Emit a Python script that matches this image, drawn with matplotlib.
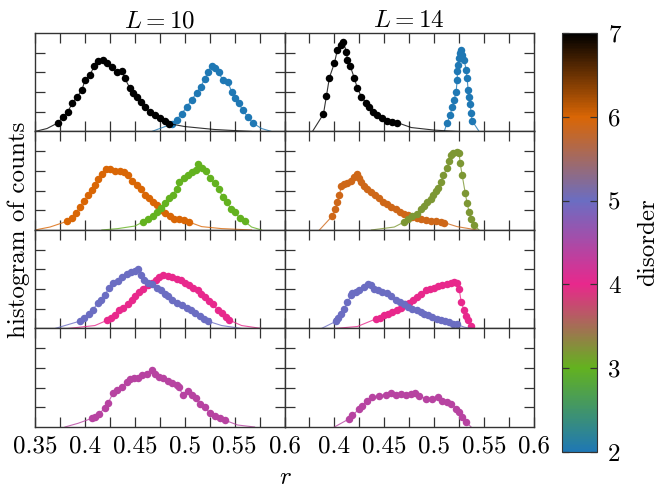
import matplotlib
matplotlib.use('Agg')
import matplotlib.pyplot as plt
from matplotlib.colors import LinearSegmentedColormap, Normalize
from matplotlib.cm import ScalarMappable
from matplotlib.ticker import FixedLocator, NullFormatter

plt.rcParams['font.family'] = 'serif'
plt.rcParams['font.serif'] = ['cmr10']
plt.rcParams['mathtext.fontset'] = 'cm'
plt.rcParams['axes.unicode_minus'] = False
plt.rcParams['font.size'] = 18

# disorder colour scale (value -> colour)
cmap_levels = [2, 3, 4, 5, 6, 7]
cmap_colors = ['#1f78b4', '#63b21f', '#e8288c', '#6b6dc2', '#d96605', '#000000']

titles = ['$L = 10$', '$L = 14$']
xtick_labels = ['0.35', '0.4', '0.45', '0.5', '0.55', '0.6']

# ---- L = 10 ----
r10_w7 = [0.35, 0.362, 0.373, 0.378, 0.383, 0.387, 0.392, 0.397, 0.40, 0.405, 0.409, 0.413,
          0.418, 0.422, 0.427, 0.432, 0.437, 0.44, 0.445, 0.448, 0.452, 0.456, 0.46, 0.465,
          0.47, 0.475, 0.48, 0.484, 0.50, 0.53, 0.567]
h10_w7 = [0.0, 0.03, 0.088, 0.15, 0.20, 0.285, 0.35, 0.42, 0.52, 0.57, 0.66, 0.72,
          0.73, 0.70, 0.65, 0.60, 0.61, 0.54, 0.44, 0.39, 0.35, 0.30, 0.245, 0.20,
          0.17, 0.14, 0.11, 0.08, 0.05, 0.02, 0.0]
r10_w2 = [0.467, 0.487, 0.492, 0.497, 0.502, 0.507, 0.512, 0.516, 0.52, 0.523, 0.527, 0.53,
          0.534, 0.538, 0.543, 0.547, 0.55, 0.554, 0.558, 0.563, 0.568, 0.577, 0.587]
h10_w2 = [0.0, 0.075, 0.12, 0.18, 0.25, 0.32, 0.395, 0.455, 0.53, 0.60, 0.667, 0.64,
          0.60, 0.524, 0.507, 0.405, 0.337, 0.286, 0.218, 0.15, 0.088, 0.03, 0.0]
r10_w6 = [0.35, 0.365, 0.382, 0.387, 0.391, 0.395, 0.399, 0.403, 0.407, 0.41, 0.413, 0.417,
          0.421, 0.425, 0.43, 0.435, 0.439, 0.443, 0.447, 0.452, 0.456, 0.46, 0.464, 0.468,
          0.472, 0.476, 0.48, 0.485, 0.489, 0.494, 0.499, 0.504, 0.517, 0.537, 0.567]
h10_w6 = [0.0, 0.03, 0.088, 0.122, 0.177, 0.235, 0.293, 0.354, 0.405, 0.456, 0.514, 0.565,
          0.62, 0.62, 0.60, 0.60, 0.585, 0.558, 0.497, 0.456, 0.415, 0.36, 0.32, 0.28,
          0.25, 0.207, 0.177, 0.143, 0.116, 0.11, 0.10, 0.082, 0.034, 0.014, 0.0]
r10_w3 = [0.417, 0.433, 0.45, 0.458, 0.463, 0.468, 0.472, 0.476, 0.48, 0.484, 0.488, 0.492,
          0.494, 0.499, 0.503, 0.507, 0.511, 0.513, 0.517, 0.521, 0.525, 0.53, 0.534, 0.538,
          0.542, 0.546, 0.55, 0.555, 0.56, 0.567, 0.577]
h10_w3 = [0.0, 0.014, 0.04, 0.08, 0.109, 0.143, 0.184, 0.224, 0.27, 0.32, 0.36, 0.415,
          0.49, 0.524, 0.558, 0.585, 0.61, 0.667, 0.626, 0.60, 0.53, 0.473, 0.415, 0.337,
          0.286, 0.218, 0.184, 0.122, 0.088, 0.03, 0.0]
r10_w5 = [0.37, 0.395, 0.399, 0.404, 0.408, 0.413, 0.416, 0.42, 0.424, 0.428, 0.433, 0.437,
          0.442, 0.446, 0.45, 0.453, 0.456, 0.459, 0.463, 0.467, 0.472, 0.476, 0.48, 0.483,
          0.487, 0.492, 0.497, 0.502, 0.506, 0.51, 0.515, 0.519, 0.523, 0.537, 0.557]
h10_w5 = [0.0, 0.075, 0.109, 0.15, 0.19, 0.259, 0.293, 0.337, 0.415, 0.463, 0.483, 0.524,
          0.558, 0.575, 0.585, 0.599, 0.54, 0.49, 0.463, 0.449, 0.415, 0.388, 0.354, 0.327,
          0.286, 0.259, 0.235, 0.211, 0.184, 0.156, 0.122, 0.099, 0.075, 0.03, 0.0]
r10_w4 = [0.383, 0.41, 0.422, 0.426, 0.43, 0.434, 0.438, 0.443, 0.447, 0.45, 0.454, 0.458,
          0.463, 0.467, 0.471, 0.474, 0.478, 0.483, 0.487, 0.492, 0.496, 0.50, 0.504, 0.508,
          0.513, 0.516, 0.52, 0.524, 0.528, 0.533, 0.537, 0.541, 0.544, 0.557, 0.577]
h10_w4 = [0.0, 0.03, 0.082, 0.109, 0.133, 0.184, 0.211, 0.245, 0.286, 0.327, 0.371, 0.405,
          0.439, 0.463, 0.49, 0.524, 0.54, 0.53, 0.524, 0.507, 0.497, 0.463, 0.439, 0.415,
          0.388, 0.347, 0.32, 0.279, 0.245, 0.19, 0.156, 0.116, 0.088, 0.03, 0.0]
r10_w45 = [0.38, 0.393, 0.407, 0.41, 0.414, 0.42, 0.423, 0.428, 0.432, 0.437, 0.442, 0.445,
           0.449, 0.453, 0.457, 0.462, 0.467, 0.47, 0.474, 0.478, 0.483, 0.487, 0.492, 0.494,
           0.498, 0.503, 0.507, 0.511, 0.515, 0.52, 0.525, 0.53, 0.535, 0.54, 0.553, 0.57]
h10_w45 = [0.0, 0.037, 0.088, 0.105, 0.128, 0.196, 0.24, 0.34, 0.375, 0.409, 0.459, 0.486,
           0.50, 0.493, 0.527, 0.534, 0.578, 0.534, 0.51, 0.493, 0.466, 0.443, 0.426, 0.409,
           0.324, 0.365, 0.324, 0.29, 0.23, 0.206, 0.139, 0.115, 0.095, 0.07, 0.02, 0.0]

# ---- L = 14 ----
r14_w7 = [0.378, 0.389, 0.392, 0.395, 0.40, 0.403, 0.407, 0.409, 0.412, 0.413, 0.416, 0.42,
          0.423, 0.427, 0.432, 0.435, 0.439, 0.443, 0.448, 0.453, 0.458, 0.463, 0.477, 0.50,
          0.523]
h14_w7 = [0.0, 0.177, 0.36, 0.548, 0.694, 0.83, 0.88, 0.905, 0.81, 0.73, 0.66, 0.54,
          0.44, 0.354, 0.286, 0.245, 0.20, 0.167, 0.133, 0.105, 0.10, 0.09, 0.04, 0.014,
          0.0]
r14_w2 = [0.51, 0.513, 0.516, 0.518, 0.52, 0.522, 0.523, 0.5233, 0.524, 0.525, 0.526, 0.527,
          0.528, 0.53, 0.532, 0.533, 0.534, 0.535, 0.536, 0.537, 0.538, 0.545]
h14_w2 = [0.0, 0.088, 0.167, 0.245, 0.32, 0.405, 0.524, 0.61, 0.677, 0.745, 0.796, 0.83,
          0.78, 0.728, 0.626, 0.54, 0.42, 0.354, 0.28, 0.184, 0.109, 0.0]
r14_w6 = [0.385, 0.398, 0.401, 0.403, 0.405, 0.407, 0.41, 0.413, 0.417, 0.42, 0.423, 0.425,
          0.427, 0.43, 0.433, 0.437, 0.441, 0.445, 0.449, 0.453, 0.457, 0.462, 0.466, 0.47,
          0.474, 0.478, 0.483, 0.487, 0.492, 0.497, 0.502, 0.507, 0.51, 0.523, 0.543]
h14_w6 = [0.0, 0.143, 0.218, 0.286, 0.354, 0.449, 0.463, 0.473, 0.497, 0.54, 0.565, 0.524,
          0.49, 0.449, 0.415, 0.388, 0.354, 0.32, 0.279, 0.259, 0.235, 0.211, 0.184, 0.167,
          0.15, 0.133, 0.122, 0.109, 0.099, 0.088, 0.088, 0.082, 0.075, 0.034, 0.0]
r14_w3 = [0.437, 0.46, 0.47, 0.474, 0.478, 0.483, 0.487, 0.49, 0.493, 0.497, 0.499, 0.502,
          0.504, 0.507, 0.509, 0.513, 0.515, 0.517, 0.519, 0.523, 0.525, 0.526, 0.528, 0.531,
          0.533, 0.535, 0.537, 0.54, 0.545]
h14_w3 = [0.0, 0.03, 0.082, 0.109, 0.143, 0.167, 0.211, 0.245, 0.279, 0.313, 0.36, 0.395,
          0.429, 0.49, 0.558, 0.626, 0.70, 0.762, 0.779, 0.796, 0.779, 0.677, 0.558, 0.38,
          0.27, 0.184, 0.109, 0.048, 0.0]
r14_w5 = [0.387, 0.402, 0.404, 0.407, 0.41, 0.413, 0.417, 0.418, 0.422, 0.425, 0.43, 0.434,
          0.437, 0.44, 0.444, 0.448, 0.453, 0.457, 0.462, 0.466, 0.47, 0.474, 0.478, 0.483,
          0.487, 0.49, 0.494, 0.498, 0.503, 0.507, 0.511, 0.515, 0.519, 0.523, 0.53, 0.537]
h14_w5 = [0.0, 0.075, 0.109, 0.15, 0.20, 0.27, 0.337, 0.36, 0.371, 0.388, 0.422, 0.456,
          0.439, 0.405, 0.388, 0.371, 0.36, 0.327, 0.293, 0.269, 0.245, 0.218, 0.20, 0.184,
          0.167, 0.15, 0.133, 0.116, 0.099, 0.088, 0.075, 0.065, 0.048, 0.041, 0.014, 0.0]
r14_w4 = [0.40, 0.423, 0.442, 0.446, 0.45, 0.454, 0.458, 0.463, 0.467, 0.471, 0.475, 0.479,
          0.483, 0.487, 0.492, 0.496, 0.50, 0.504, 0.508, 0.513, 0.517, 0.52, 0.523, 0.525,
          0.527, 0.53, 0.532, 0.534, 0.537, 0.54]
h14_w4 = [0.0, 0.02, 0.099, 0.109, 0.133, 0.15, 0.167, 0.19, 0.211, 0.245, 0.259, 0.286,
          0.32, 0.354, 0.388, 0.405, 0.415, 0.429, 0.439, 0.449, 0.463, 0.473, 0.463, 0.405,
          0.269, 0.184, 0.122, 0.088, 0.03, 0.0]
r14_w45 = [0.40, 0.415, 0.418, 0.425, 0.428, 0.433, 0.438, 0.445, 0.452, 0.457, 0.462, 0.467,
           0.472, 0.477, 0.481, 0.485, 0.492, 0.498, 0.504, 0.508, 0.513, 0.517, 0.522, 0.525,
           0.528, 0.532, 0.537]
h14_w45 = [0.0, 0.084, 0.117, 0.185, 0.218, 0.268, 0.302, 0.319, 0.329, 0.342, 0.329, 0.336,
           0.329, 0.336, 0.342, 0.319, 0.285, 0.285, 0.302, 0.268, 0.252, 0.235, 0.185, 0.151,
           0.10, 0.05, 0.0]

# (column, row, disorder, r, counts, line-only points at start, line-only points at end)
series = [
    (0, 0, 2.0, r10_w2, h10_w2, 1, 2),
    (0, 0, 7.0, r10_w7, h10_w7, 2, 3),
    (0, 1, 6.0, r10_w6, h10_w6, 2, 3),
    (0, 1, 3.0, r10_w3, h10_w3, 3, 2),
    (0, 2, 4.0, r10_w4, h10_w4, 2, 2),
    (0, 2, 5.0, r10_w5, h10_w5, 1, 2),
    (0, 3, 4.4, r10_w45, h10_w45, 2, 2),
    (1, 0, 2.0, r14_w2, h14_w2, 1, 1),
    (1, 0, 7.0, r14_w7, h14_w7, 1, 3),
    (1, 1, 5.9, r14_w6, h14_w6, 1, 2),
    (1, 1, 3.2, r14_w3, h14_w3, 2, 1),
    (1, 2, 4.0, r14_w4, h14_w4, 2, 1),
    (1, 2, 5.0, r14_w5, h14_w5, 1, 2),
    (1, 3, 4.4, r14_w45, h14_w45, 1, 1),
]

vmin, vmax = cmap_levels[0], cmap_levels[-1]
cmap = LinearSegmentedColormap.from_list(
    'disorder', [((v - vmin) / (vmax - vmin), c) for v, c in zip(cmap_levels, cmap_colors)])
norm = Normalize(vmin, vmax)

fig, axes = plt.subplots(4, 2, figsize=(6.66, 4.9), dpi=100)
fig.subplots_adjust(left=0.0526, right=0.8018, top=0.9327, bottom=0.1286, hspace=0, wspace=0)

for col, row, w, r, h, n0, n1 in series:
    ax = axes[row, col]
    c = cmap(norm(w))
    ax.plot(r, h, '-', color=c, lw=0.8, alpha=0.8)
    ax.plot(r[n0:len(r) - n1], h[n0:len(h) - n1], 'o', color=c, ms=5.4, mec='none')

for row in range(4):
    for col in range(2):
        ax = axes[row, col]
        ax.set_xlim(0.35, 0.6)
        ax.set_ylim(0, 1)
        ax.xaxis.set_major_locator(FixedLocator([0.35, 0.4, 0.45, 0.5, 0.55, 0.6]))
        ax.xaxis.set_minor_locator(FixedLocator([0.375, 0.425, 0.475, 0.525, 0.575]))
        ax.yaxis.set_major_locator(FixedLocator([0.2, 0.4, 0.6, 0.8]))
        ax.yaxis.set_major_formatter(NullFormatter())
        ax.tick_params(which='both', direction='in', length=7, width=0.9, color='#333333',
                       top=True, right=True, pad=6)
        for sp in ax.spines.values():
            sp.set_color('#333333')
            sp.set_linewidth(1.0)
        if row == 3:
            labels = xtick_labels if col == 0 else [''] + xtick_labels[1:]
            ax.set_xticklabels(labels)
        else:
            ax.xaxis.set_major_formatter(NullFormatter())

axes[0, 0].set_title(titles[0], fontsize=18, pad=4)
axes[0, 1].set_title(titles[1], fontsize=18, pad=4)

fig.text(0.028, 0.53, 'histogram of counts', rotation=90, ha='center', va='center', fontsize=18)
fig.text(0.428, 0.025, '$r$', ha='center', va='center', fontsize=18)

cax = fig.add_axes([0.8438, 0.0776, 0.0526, 0.855])
cb = fig.colorbar(ScalarMappable(norm=norm, cmap=cmap), cax=cax)
cb.set_ticks([2, 3, 4, 5, 6, 7])
cb.ax.tick_params(direction='in', length=5, width=0.9, color='#333333', left=True, right=True, pad=8)
cb.outline.set_edgecolor('#333333')
cb.set_label('disorder', fontsize=18, labelpad=12)

fig.savefig('out.png', dpi=100)
